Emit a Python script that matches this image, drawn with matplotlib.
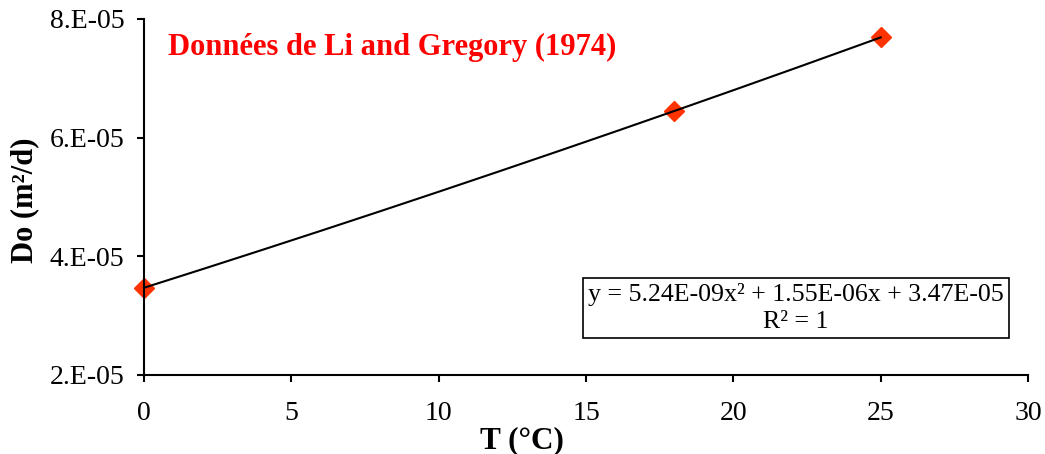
import numpy as np
import matplotlib
matplotlib.use("Agg")
import matplotlib.pyplot as plt

# Data
temps = [0, 18, 25]
do_vals = [3.47e-05, 6.45e-05, 7.69e-05]
xticks = [0, 5, 10, 15, 20, 25, 30]
yticks = [2e-05, 4e-05, 6e-05, 8e-05]
ytick_labels = ["2.E-05", "4.E-05", "6.E-05", "8.E-05"]
title_text = "Données de Li and Gregory (1974)"
eq_text = "y = 5.24E-09x² + 1.55E-06x + 3.47E-05\nR² = 1"

plt.rcParams['font.family'] = ['Liberation Serif', 'DejaVu Serif']

fig = plt.figure(figsize=(10.45, 4.54), dpi=100)
ax = fig.add_axes([144/1045, 1-375/454, (1028-144)/1045, (375-19)/454])

coef = np.polyfit(temps, do_vals, 2)
xf = np.linspace(min(temps), max(temps), 200)
ax.plot(temps, do_vals, linestyle='none', marker='D', ms=10, color='#FF3300', zorder=2, clip_on=False)
ax.plot(xf, np.polyval(coef, xf), color='black', lw=1.5, zorder=3, clip_on=False)

ax.set_xlim(0, 30)
ax.set_ylim(2e-05, 8e-05)
ax.set_xticks(xticks)
ax.set_xticklabels([str(t) for t in xticks])
ax.set_yticks(yticks)
ax.set_yticklabels(ytick_labels)
ax.tick_params(direction='out', length=5, width=1.5, labelsize=20, pad=9)
ax.tick_params(axis='x', pad=14)
for s in ['top', 'right']:
    ax.spines[s].set_visible(False)
for s in ['left', 'bottom']:
    ax.spines[s].set_linewidth(1.5)

ax.set_xlabel("T (°C)", fontsize=22.5, fontweight='bold')
ax.xaxis.set_label_coords((522-144)/884, (375-441)/356)
ax.xaxis.label.set_va('center')
ax.set_ylabel("Do (m²/d)", fontsize=22, fontweight='bold')
ax.yaxis.set_label_coords((25-144)/884, (375-200)/356)
ax.yaxis.label.set_va('center')

fig.text(168/1045, 1-47/454, title_text, color='#FF0000',
         fontsize=22, fontweight='bold', ha='left', va='center')

fig.text(796/1045, 1-308/454, eq_text, ha='center', va='center', fontsize=18.6,
         linespacing=1.25,
         bbox=dict(boxstyle='square,pad=0.2', facecolor='white', edgecolor='black', lw=1.2))

fig.savefig("out.png", dpi=100)
